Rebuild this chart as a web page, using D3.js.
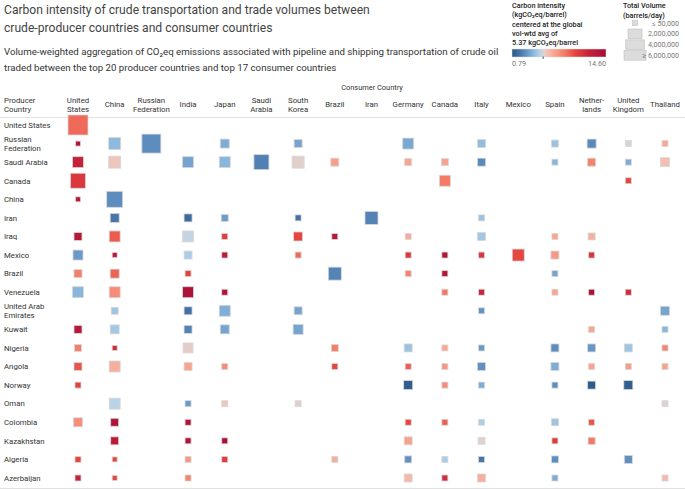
<!DOCTYPE html>
<html>
<head>
<meta charset="utf-8">
<script src="https://cdn.jsdelivr.net/npm/d3@7"></script>
<style>
  body { margin: 0; background: #fff; }
  text { font-family: Roboto, "Noto Sans", sans-serif; fill: #333; }
</style>
</head>
<body>
<div id="chart"></div>
<script>
var svgWidth = 685;
var svgHeight = 490;

// consumer countries (columns) and their header labels
var consumers = ["United States", "China", "Russian Federation", "India", "Japan", "Saudi Arabia",
  "South Korea", "Brazil", "Iran", "Germany", "Canada", "Italy", "Mexico", "Spain",
  "Netherlands", "United Kingdom", "Thailand"];
var consumerLabels = ["United|States", "China", "Russian|Federation", "India", "Japan", "Saudi|Arabia",
  "South|Korea", "Brazil", "Iran", "Germany", "Canada", "Italy", "Mexico", "Spain",
  "Nether-|lands", "United|Kingdom", "Thailand"];

// producer countries (rows)
var producers = ["United States", "Russian Federation", "Saudi Arabia", "Canada", "China", "Iran",
  "Iraq", "Mexico", "Brazil", "Venezuela", "United Arab Emirates", "Kuwait", "Nigeria", "Angola",
  "Norway", "Oman", "Colombia", "Kazakhstan", "Algeria", "Azerbaijan"];
var producerLabels = ["United States", "Russian|Federation", "Saudi Arabia", "Canada", "China", "Iran",
  "Iraq", "Mexico", "Brazil", "Venezuela", "United Arab|Emirates", "Kuwait", "Nigeria", "Angola",
  "Norway", "Oman", "Colombia", "Kazakhstan", "Algeria", "Azerbaijan"];

// [producer, consumer, volume (barrels/day), carbon intensity (kgCO2eq/barrel)]
var flows = [
  ["United States", "United States", 4800000, 9.0],
  ["Russian Federation", "United States", 66000, 13.5],
  ["Russian Federation", "China", 1350000, 4.0],
  ["Russian Federation", "Russian Federation", 4250000, 2.7],
  ["Russian Federation", "Japan", 600000, 3.6],
  ["Russian Federation", "South Korea", 415000, 3.4],
  ["Russian Federation", "Germany", 1060000, 3.5],
  ["Russian Federation", "Italy", 415000, 4.1],
  ["Russian Federation", "Spain", 266000, 4.3],
  ["Russian Federation", "Netherlands", 600000, 2.6],
  ["Russian Federation", "United Kingdom", 150000, 5.3],
  ["Russian Federation", "Thailand", 150000, 6.9],
  ["Saudi Arabia", "United States", 1060000, 12.2],
  ["Saudi Arabia", "China", 1350000, 5.8],
  ["Saudi Arabia", "India", 1060000, 3.4],
  ["Saudi Arabia", "Japan", 1060000, 3.9],
  ["Saudi Arabia", "Saudi Arabia", 2400000, 2.3],
  ["Saudi Arabia", "South Korea", 1350000, 5.55],
  ["Saudi Arabia", "Brazil", 415000, 7.2],
  ["Saudi Arabia", "Germany", 266000, 7.0],
  ["Saudi Arabia", "Canada", 266000, 7.0],
  ["Saudi Arabia", "Italy", 415000, 2.6],
  ["Saudi Arabia", "Spain", 150000, 3.9],
  ["Saudi Arabia", "Netherlands", 415000, 8.2],
  ["Saudi Arabia", "United Kingdom", 150000, 3.6],
  ["Saudi Arabia", "Thailand", 600000, 6.0],
  ["Canada", "United States", 2400000, 10.8],
  ["Canada", "Canada", 1060000, 8.5],
  ["Canada", "United Kingdom", 150000, 10.0],
  ["China", "United States", 66000, 13.2],
  ["China", "China", 2800000, 2.7],
  ["Iran", "China", 600000, 2.0],
  ["Iran", "India", 415000, 1.6],
  ["Iran", "Japan", 266000, 3.2],
  ["Iran", "South Korea", 150000, 1.8],
  ["Iran", "Iran", 1660000, 2.4],
  ["Iran", "Italy", 150000, 4.3],
  ["Iraq", "United States", 415000, 13.3],
  ["Iraq", "China", 1060000, 9.4],
  ["Iraq", "India", 1060000, 5.1],
  ["Iraq", "Japan", 150000, 10.5],
  ["Iraq", "South Korea", 600000, 10.0],
  ["Iraq", "Brazil", 150000, 13.3],
  ["Iraq", "Germany", 150000, 6.7],
  ["Iraq", "Italy", 415000, 4.5],
  ["Iraq", "Spain", 150000, 7.0],
  ["Iraq", "Netherlands", 266000, 6.6],
  ["Mexico", "United States", 814000, 3.1],
  ["Mexico", "China", 66000, 13.0],
  ["Mexico", "India", 415000, 4.7],
  ["Mexico", "Japan", 150000, 12.8],
  ["Mexico", "South Korea", 150000, 9.0],
  ["Mexico", "Germany", 150000, 10.8],
  ["Mexico", "Canada", 150000, 13.6],
  ["Mexico", "Italy", 150000, 10.9],
  ["Mexico", "Mexico", 1350000, 10.0],
  ["Mexico", "Spain", 415000, 7.4],
  ["Mexico", "Netherlands", 150000, 10.9],
  ["Brazil", "United States", 415000, 8.4],
  ["Brazil", "China", 600000, 9.2],
  ["Brazil", "India", 150000, 10.2],
  ["Brazil", "Brazil", 1660000, 2.4],
  ["Brazil", "Germany", 150000, 8.2],
  ["Brazil", "Canada", 150000, 13.6],
  ["Brazil", "Spain", 150000, 3.4],
  ["Venezuela", "United States", 1060000, 3.9],
  ["Venezuela", "China", 1060000, 7.9],
  ["Venezuela", "India", 1060000, 14.0],
  ["Venezuela", "Japan", 150000, 13.7],
  ["Venezuela", "Canada", 150000, 8.6],
  ["Venezuela", "Italy", 150000, 11.8],
  ["Venezuela", "Spain", 150000, 7.0],
  ["Venezuela", "Netherlands", 150000, 14.1],
  ["Venezuela", "United Kingdom", 150000, 11.5],
  ["United Arab Emirates", "China", 266000, 4.4],
  ["United Arab Emirates", "India", 415000, 1.8],
  ["United Arab Emirates", "Japan", 1060000, 3.7],
  ["United Arab Emirates", "South Korea", 415000, 3.4],
  ["United Arab Emirates", "Italy", 150000, 2.9],
  ["United Arab Emirates", "Thailand", 600000, 3.4],
  ["Kuwait", "United States", 415000, 13.3],
  ["Kuwait", "China", 600000, 4.5],
  ["Kuwait", "India", 415000, 2.4],
  ["Kuwait", "Japan", 600000, 3.4],
  ["Kuwait", "South Korea", 814000, 3.4],
  ["Kuwait", "Netherlands", 150000, 6.9],
  ["Kuwait", "Thailand", 150000, 3.9],
  ["Nigeria", "United States", 266000, 8.4],
  ["Nigeria", "China", 66000, 11.5],
  ["Nigeria", "India", 814000, 5.6],
  ["Nigeria", "Brazil", 266000, 8.4],
  ["Nigeria", "Germany", 415000, 4.3],
  ["Nigeria", "Canada", 150000, 6.9],
  ["Nigeria", "Italy", 150000, 3.1],
  ["Nigeria", "Spain", 415000, 2.7],
  ["Nigeria", "Netherlands", 415000, 3.0],
  ["Nigeria", "United Kingdom", 415000, 4.4],
  ["Nigeria", "Thailand", 150000, 8.2],
  ["Angola", "United States", 415000, 9.6],
  ["Angola", "China", 1060000, 6.6],
  ["Angola", "India", 415000, 7.0],
  ["Angola", "Japan", 150000, 7.9],
  ["Angola", "Brazil", 150000, 10.1],
  ["Angola", "Germany", 150000, 9.3],
  ["Angola", "Canada", 150000, 7.5],
  ["Angola", "Italy", 415000, 2.8],
  ["Angola", "Spain", 415000, 3.6],
  ["Angola", "Netherlands", 150000, 7.0],
  ["Angola", "United Kingdom", 150000, 7.3],
  ["Angola", "Thailand", 150000, 7.0],
  ["Norway", "United States", 150000, 10.2],
  ["Norway", "Germany", 600000, 1.0],
  ["Norway", "Canada", 150000, 7.9],
  ["Norway", "Italy", 150000, 3.6],
  ["Norway", "Spain", 150000, 2.7],
  ["Norway", "Netherlands", 415000, 0.9],
  ["Norway", "United Kingdom", 600000, 1.1],
  ["Oman", "China", 1060000, 4.95],
  ["Oman", "India", 150000, 3.1],
  ["Oman", "Japan", 150000, 5.8],
  ["Oman", "South Korea", 150000, 5.55],
  ["Oman", "Thailand", 150000, 5.45],
  ["Colombia", "United States", 600000, 7.8],
  ["Colombia", "China", 415000, 13.8],
  ["Colombia", "India", 150000, 13.8],
  ["Colombia", "Germany", 150000, 10.1],
  ["Colombia", "Canada", 150000, 9.3],
  ["Colombia", "Italy", 150000, 4.7],
  ["Colombia", "Spain", 266000, 4.4],
  ["Colombia", "Netherlands", 150000, 9.6],
  ["Kazakhstan", "China", 415000, 13.0],
  ["Kazakhstan", "India", 150000, 13.8],
  ["Kazakhstan", "Japan", 150000, 14.2],
  ["Kazakhstan", "Germany", 415000, 7.1],
  ["Kazakhstan", "Italy", 266000, 5.5],
  ["Kazakhstan", "Spain", 150000, 10.6],
  ["Kazakhstan", "Netherlands", 266000, 8.6],
  ["Algeria", "United States", 150000, 10.0],
  ["Algeria", "China", 66000, 10.0],
  ["Algeria", "India", 150000, 7.5],
  ["Algeria", "Japan", 150000, 10.5],
  ["Algeria", "Brazil", 150000, 6.6],
  ["Algeria", "Germany", 266000, 2.8],
  ["Algeria", "Canada", 150000, 4.6],
  ["Algeria", "Italy", 150000, 2.0],
  ["Algeria", "Spain", 266000, 2.7],
  ["Algeria", "United Kingdom", 415000, 2.8],
  ["Azerbaijan", "United States", 150000, 12.2],
  ["Azerbaijan", "China", 66000, 10.0],
  ["Azerbaijan", "India", 150000, 8.2],
  ["Azerbaijan", "Germany", 415000, 6.2],
  ["Azerbaijan", "Canada", 150000, 11.5],
  ["Azerbaijan", "Italy", 415000, 6.6],
  ["Azerbaijan", "Spain", 150000, 3.6],
  ["Azerbaijan", "Thailand", 150000, 6.2]
];

// colour legend range and size legend steps
var intensityMin = 0.79, intensityCenter = 5.37, intensityMax = 14.60;
var sizeLegendValues = [50000, 2000000, 4000000, 6000000];
var sizeLegendLabels = ["\u2264 50,000", "2,000,000", "4,000,000", "\u2265 6,000,000"];

var svg = d3.select("#chart").append("svg")
  .attr("width", svgWidth)
  .attr("height", svgHeight);

// diverging red-blue, centred on the global average
var colorStops = [
  [0.79, "#2c5985"], [1.9, "#4473a9"], [3.0, "#6796c6"], [4.0, "#8ebadd"], [4.9, "#b6d3e9"],
  [5.37, "#d8d6d6"],
  [5.9, "#f3c2b6"], [7.0, "#f8a48f"], [8.5, "#f47c67"], [10.0, "#e6463f"], [12.0, "#c8233a"], [14.6, "#a50d37"]
];
var color = d3.scaleLinear()
  .domain(colorStops.map(d => d[0]))
  .range(colorStops.map(d => d[1]))
  .interpolate(d3.interpolateRgb)
  .clamp(true);

var size = d3.scaleSqrt()
  .domain([0, 6000000])
  .range([3, 22])
  .clamp(true);

var x = d3.scalePoint().domain(consumers).range([78, 665]);
var y = d3.scalePoint().domain(producers).range([125, 478]);

// shrink a text until it is no wider than the reference line
function fitText(sel, maxW) {
  var fs = parseFloat(sel.style("font-size"));
  var w = sel.node().getComputedTextLength();
  if (w > 0) sel.style("font-size", (fs * maxW / w) + "px");
  return sel;
}

// titles
var t1 = svg.append("text").attr("x", 4).attr("y", 14).style("font-size", "14px").style("fill", "#444")
  .text("Carbon intensity of crude transportation and trade volumes between");
var t2 = svg.append("text").attr("x", 4).attr("y", 31.5).style("font-size", "14px").style("fill", "#444")
  .text("crude-producer countries and consumer countries");
fitText(t1, 366);
t2.style("font-size", t1.style("font-size"));
var s1 = svg.append("text").attr("x", 4).attr("y", 55).style("font-size", "10.5px")
  .text("Volume-weighted aggregation of CO\u2082eq emissions associated with pipeline and shipping transportation of crude oil");
var s2 = svg.append("text").attr("x", 4).attr("y", 70.5).style("font-size", "10.5px")
  .text("traded between the top 20 producer countries and top 17 consumer countries");
fitText(s1, 495);
s2.style("font-size", s1.style("font-size"));

// label size: "United States" row label is about 44-46px wide in the reference
var probe = svg.append("text").style("font-size", "8px").text("United States");
var labelSize = 8 * 46.5 / probe.node().getComputedTextLength();
probe.remove();

// colour legend
var cl = svg.append("g").attr("transform", "translate(512,0)");
["Carbon intensity", "(kgCO\u2082eq/barrel)", "centered at the global", "vol-wtd avg of", "5.37 kgCO\u2082eq/barrel"]
  .forEach(function(t, i) {
    cl.append("text").attr("x", 0).attr("y", 8 + i * 9.35)
      .style("font-size", (labelSize * 0.93) + "px").style("font-weight", "500").style("fill", "#222").text(t);
  });
var legW = 94;
var grad = svg.append("defs").append("linearGradient").attr("id", "ci-grad");
colorStops.forEach(function(s) {
  grad.append("stop")
    .attr("offset", (s[0] - intensityMin) / (intensityMax - intensityMin))
    .attr("stop-color", s[1]);
});
cl.append("rect").attr("x", 0).attr("y", 49).attr("width", legW).attr("height", 8)
  .attr("fill", "url(#ci-grad)").attr("stroke", "#ddd").attr("stroke-width", 0.5);
var cx = legW * (intensityCenter - intensityMin) / (intensityMax - intensityMin);
cl.append("line").attr("x1", cx).attr("x2", cx).attr("y1", 56.5).attr("y2", 59)
  .attr("stroke", "#555").attr("stroke-width", 1);
cl.append("text").attr("x", 0).attr("y", 65.5).style("font-size", (labelSize * 0.92) + "px").style("fill", "#777")
  .text(intensityMin.toFixed(2));
cl.append("text").attr("x", legW).attr("y", 65.5).attr("text-anchor", "end")
  .style("font-size", (labelSize * 0.92) + "px").style("fill", "#777").text(intensityMax.toFixed(2));

// size legend
var sl = svg.append("g").attr("transform", "translate(623,0)");
sl.append("text").attr("x", 0).attr("y", 8).style("font-size", (labelSize * 0.93) + "px")
  .style("font-weight", "500").style("fill", "#222").text("Total Volume");
sl.append("text").attr("x", 0).attr("y", 17.5).style("font-size", (labelSize * 0.93) + "px")
  .style("font-weight", "500").style("fill", "#222").text("(barrels/day)");
sizeLegendValues.forEach(function(v, i) {
  var s = size(v), cy = 23 + i * 10.8, h = Math.min(s, 9.5);
  sl.append("rect").attr("x", 12 - s / 2).attr("y", cy - h / 2).attr("width", s).attr("height", h)
    .attr("fill", "#dcdcdc").attr("stroke", "#bdbdbd").attr("stroke-width", 0.6);
  sl.append("text").attr("x", 56).attr("y", cy + 2.5).attr("text-anchor", "end")
    .style("font-size", (labelSize * 0.92) + "px").style("fill", "#777").text(sizeLegendLabels[i]);
});

// headers
svg.append("text").attr("x", 372).attr("y", 90).attr("text-anchor", "middle")
  .style("font-size", (labelSize * 0.95) + "px").text("Consumer Country");

function multiline(g, label, xPos, yMid, anchor) {
  var parts = label.split("|");
  var t = g.append("text").attr("x", xPos).attr("text-anchor", anchor).style("font-size", labelSize + "px");
  parts.forEach(function(p, i) {
    t.append("tspan").attr("x", xPos)
      .attr("y", yMid + 2.8 + (i - (parts.length - 1) / 2) * 9.2)
      .text(p);
  });
}

var header = svg.append("g");
consumers.forEach(function(c, i) {
  multiline(header, consumerLabels[i], x(c), 104.5, "middle");
});
multiline(header, "Producer|Country", 4, 104.5, "start");

svg.append("line").attr("x1", 0).attr("x2", svgWidth).attr("y1", 117.5).attr("y2", 117.5)
  .attr("stroke", "#e2e2e2").attr("stroke-width", 1);
svg.append("line").attr("x1", 0).attr("x2", svgWidth).attr("y1", 488.5).attr("y2", 488.5)
  .attr("stroke", "#e2e2e2").attr("stroke-width", 1);

// row labels
var rows = svg.append("g");
producers.forEach(function(p, i) {
  multiline(rows, producerLabels[i], 4, y(p), "start");
});

// squares
svg.append("g").selectAll("rect")
  .data(flows)
  .enter()
  .append("rect")
  .attr("x", d => x(d[1]) - size(d[2]) / 2)
  .attr("y", d => y(d[0]) - size(d[2]) / 2)
  .attr("width", d => size(d[2]))
  .attr("height", d => size(d[2]))
  .attr("fill", d => color(d[3]))
  .attr("stroke", "#d8d8d8")
  .attr("stroke-width", 0.8);
</script>
</body>
</html>
